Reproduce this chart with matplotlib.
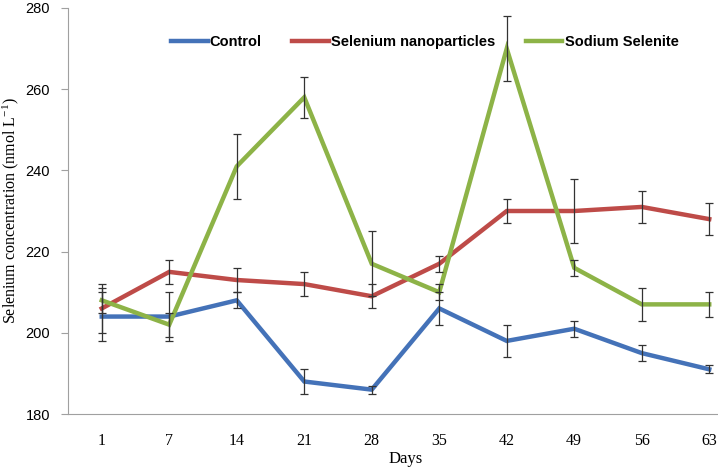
import matplotlib
matplotlib.use("Agg")
import matplotlib.pyplot as plt
import numpy as np

plt.rcParams["mathtext.fontset"] = "stix"

days = ["1", "7", "14", "21", "28", "35", "42", "49", "56", "63"]

control = [204, 204, 208, 188, 186, 206, 198, 201, 195, 191]
control_err = [6, 6, 2, 3, 1, 4, 4, 2, 2, 1]

nano = [206, 215, 213, 212, 209, 217, 230, 230, 231, 228]
nano_err = [6, 3, 3, 3, 3, 2, 3, 8, 4, 4]

selenite = [208, 202, 241, 258, 217, 210, 270, 216, 207, 207]
selenite_err = [3, 3, 8, 5, 8, 2, 8, 2, 4, 3]

series = [
    ("Control", control, control_err, "#4472B8"),
    ("Selenium nanoparticles", nano, nano_err, "#BE4B48"),
    ("Sodium Selenite", selenite, selenite_err, "#8DB347"),
]

fig = plt.figure(figsize=(7.18, 4.67), dpi=100)
ax = fig.add_axes([68 / 718, 53 / 467, 675 / 718, 406 / 467])

x = np.arange(len(days))
for name, vals, err, col in series:
    ax.plot(x, vals, color=col, lw=3.2, label=name, zorder=2, solid_joinstyle="miter")
    ax.errorbar(x, vals, yerr=err, fmt="none", ecolor="#333333", elinewidth=0.9,
                capsize=3.2, capthick=0.9, zorder=3)

ax.set_xlim(-0.5, 9.5)
ax.set_ylim(180, 280)
ax.set_yticks([180, 200, 220, 240, 260, 280])
ax.set_xticks(x)
ax.set_xticklabels(days, family="Liberation Serif", fontsize=11.5)
for lab in ax.get_yticklabels():
    lab.set_family("Liberation Sans")
    lab.set_fontsize(10.5)

for s in ["top", "right"]:
    ax.spines[s].set_visible(False)
ax.spines["left"].set_color("#A0A0A0")
ax.spines["bottom"].set_color("#A0A0A0")
ax.tick_params(axis="y", length=5, color="#A0A0A0", pad=8)
ax.tick_params(axis="x", length=0, pad=14)

ax.set_xlabel("Days", family="Liberation Serif", fontsize=12, labelpad=1)
ax.set_ylabel("Selenium concentration (nmol L$^{\\mathregular{-1}}$)", family="Liberation Serif",
              fontsize=11.5)
ax.yaxis.set_label_coords(-0.069, 0.5)

leg = ax.legend(loc="upper left", bbox_to_anchor=(90 / 675, 0.965), ncol=3, frameon=False,
                prop={"family": "Liberation Sans", "weight": "bold", "size": 10.5},
                handlelength=2.5, handletextpad=0.15, columnspacing=2.1)

fig.savefig("out.png", dpi=100)
